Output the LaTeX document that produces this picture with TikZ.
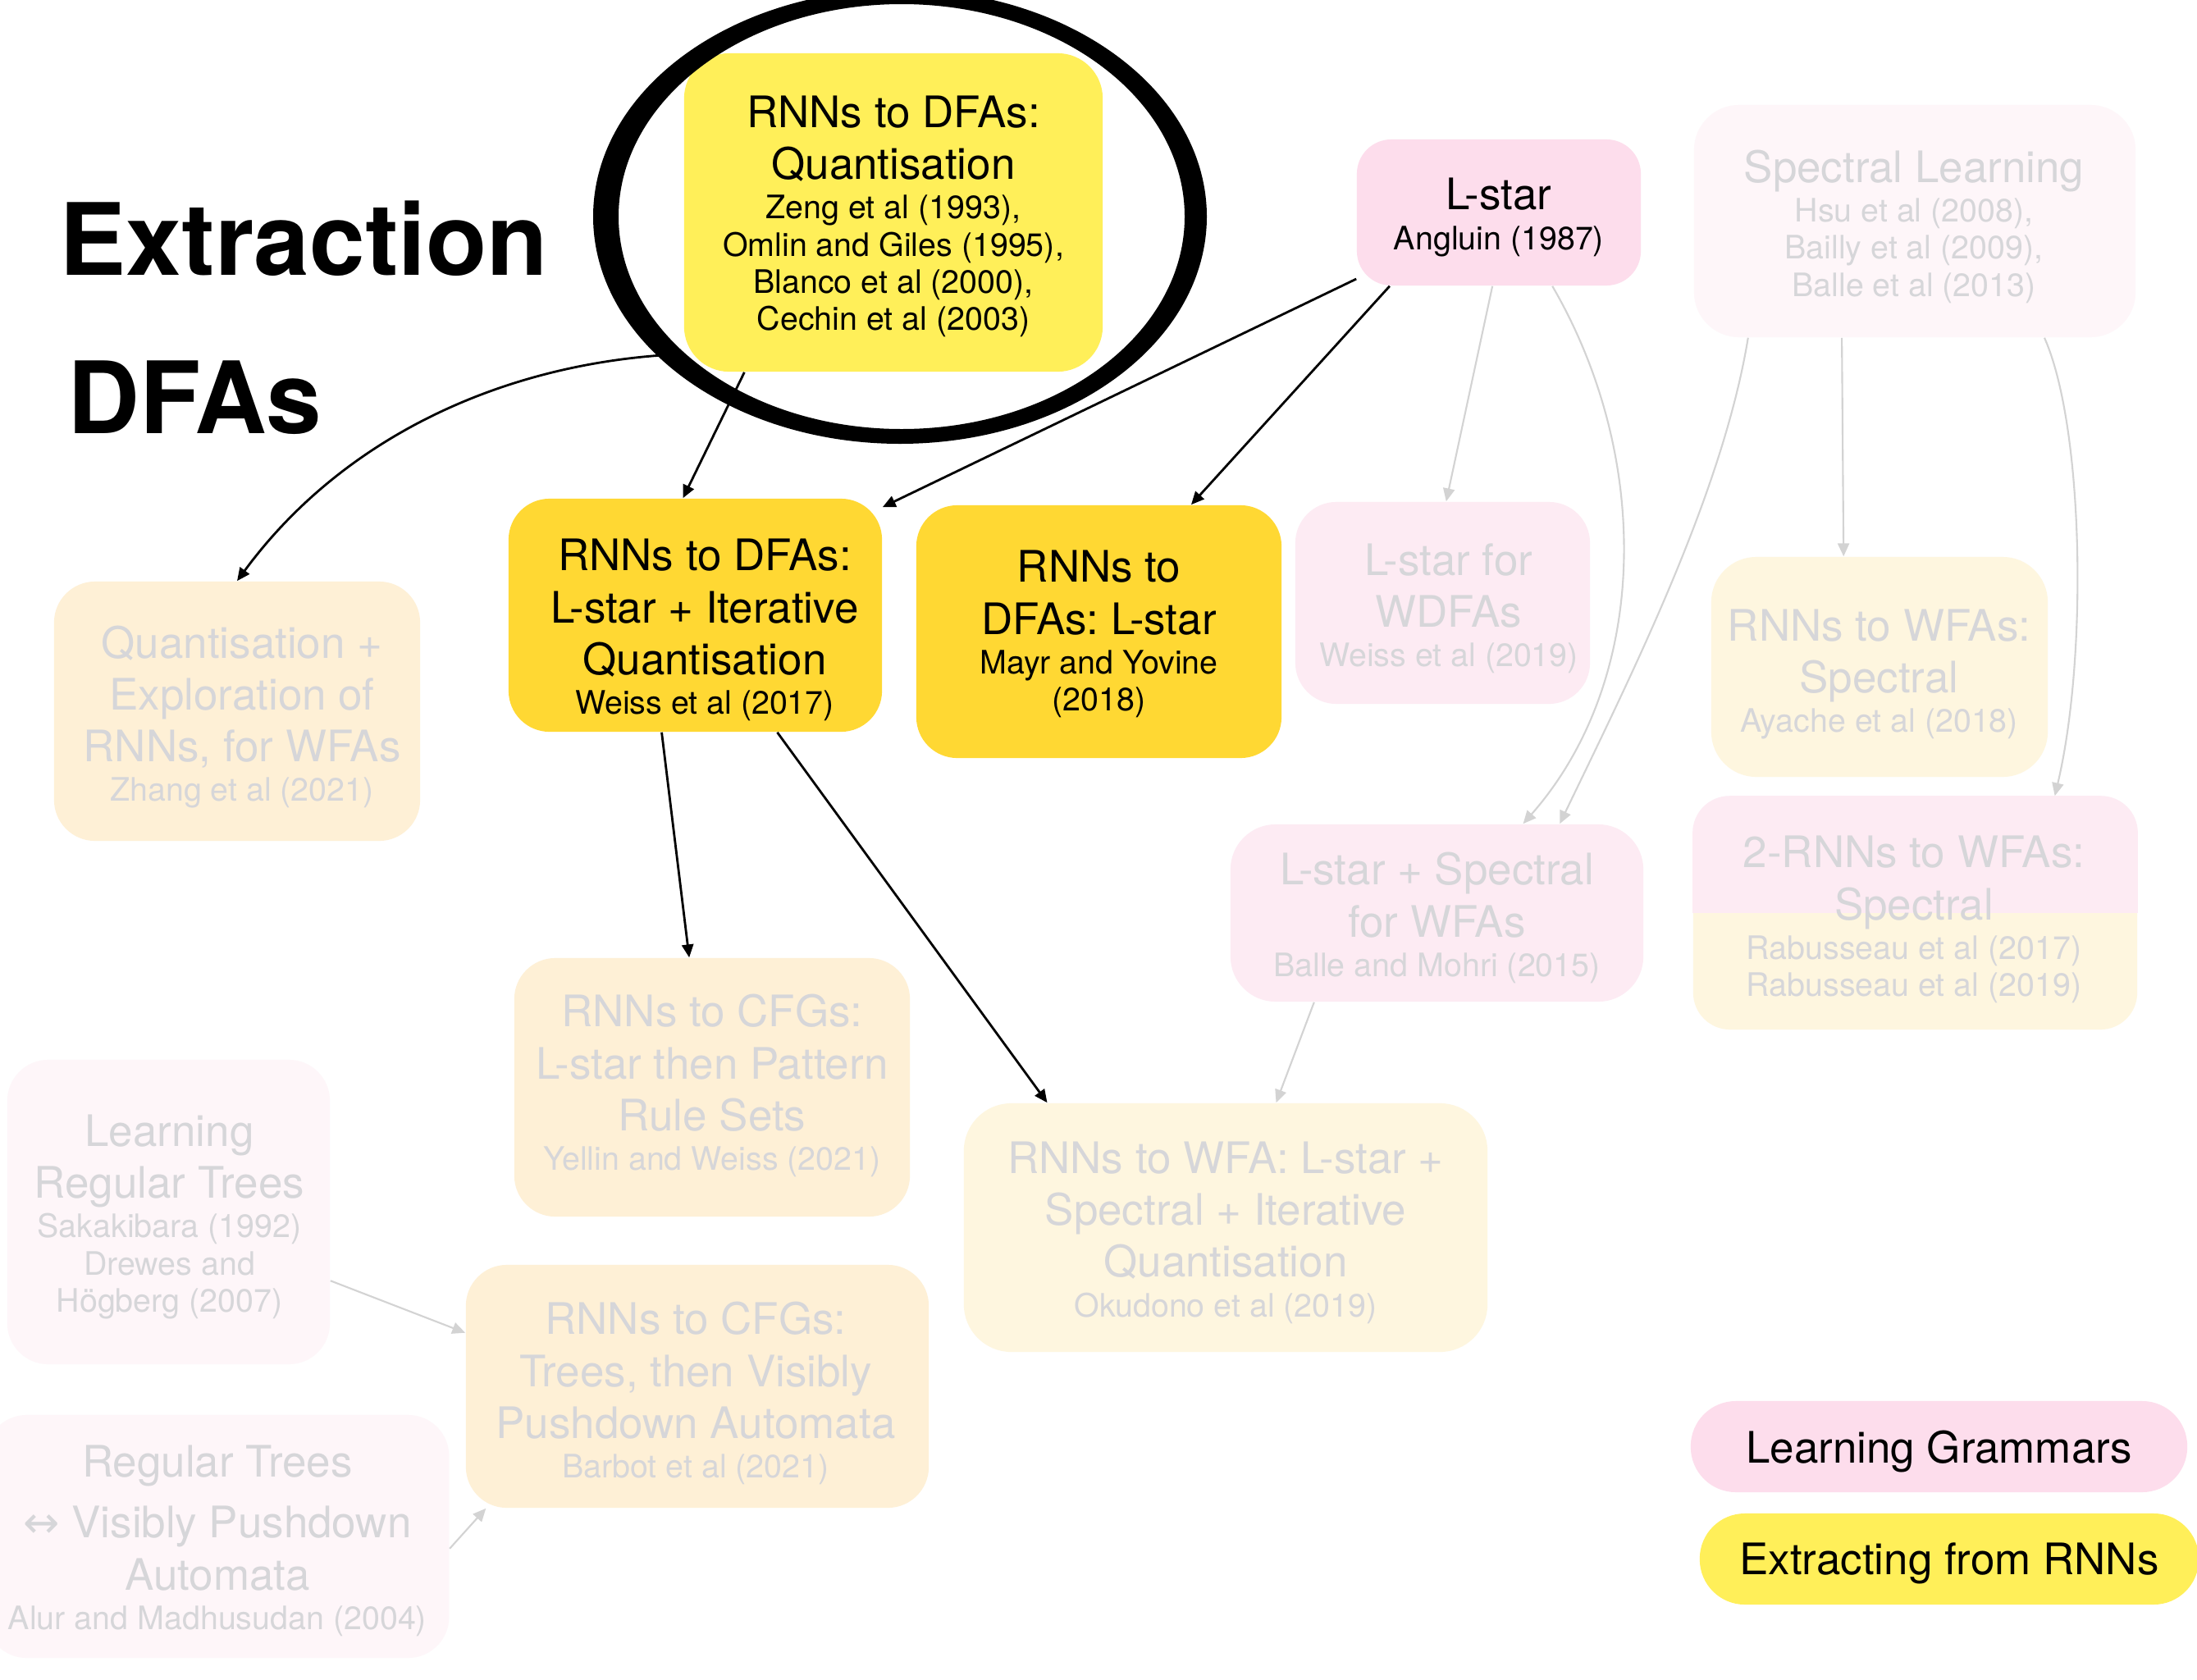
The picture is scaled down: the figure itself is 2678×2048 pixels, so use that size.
\documentclass[tikz,border=0pt]{standalone}
\usepackage{fontspec}
\setmainfont{TeX Gyre Heros}
\newfontfamily\symfont{DejaVu Sans}
\usetikzlibrary{arrows.meta}

\definecolor{yelbox}{HTML}{FFEF59}
\definecolor{goldbox}{HTML}{FFD833}
\definecolor{pinkbox}{HTML}{FDDDEC}
\definecolor{pinkfade}{HTML}{FDEBF3}
\definecolor{pinkpale}{HTML}{FEF6F9}
\definecolor{creambox}{HTML}{FEF0D6}
\definecolor{yelfade}{HTML}{FEF6DF}
\definecolor{fadetext}{HTML}{D6D6D9}
\definecolor{fadeline}{HTML}{D3D3D3}

\newcommand\mainsize{\fontsize{15.05}{18}\selectfont\frenchspacing}
\newcommand\citesize{\fontsize{11.2}{12.9}\selectfont}
\newcommand\citestart{\par\vspace{0.8pt}\citesize}
\newcommand\titlesize{\fontsize{34.6}{40}\selectfont\bfseries}

\begin{document}
\begin{tikzpicture}[x=0.01cm, y=-0.01cm,
  card/.style={rectangle, rounded corners=0.5cm, inner sep=0pt},
  words/.style={inner sep=0pt, align=flush center, font=\mainsize},
  faded/.style={text=fadetext},
  pill/.style={rectangle, rounded corners=0.55cm, inner sep=0pt,
    minimum height=1.11cm, font=\mainsize, text depth=0pt},
  link/.style={draw=black, line width=0.8pt, -{Triangle[length=4.5pt,width=4pt]}},
  glink/.style={draw=fadeline, line width=0.6pt, -{Triangle[length=4.5pt,width=4pt]}}]

\fill[white] (0,0) rectangle (2678,2048);
\useasboundingbox (0,0) rectangle (2678,2048);

% headings
\node[anchor=base west, inner sep=0pt, font=\titlesize] (head1) at (72,335) {Extraction};
\node[anchor=base west, inner sep=0pt, font=\titlesize] (head2) at (82,528) {DFAs};

% cards
\node[card, fill=yelbox, rounded corners=0.55cm, minimum width=5.10cm, minimum height=3.88cm] (q1) at (1089,259) {};
\node[card, fill=pinkbox, rounded corners=0.42cm, minimum width=3.46cm, minimum height=1.78cm] (ls) at (1827,259) {};
\node[card, fill=pinkpale, rounded corners=0.55cm, minimum width=5.38cm, minimum height=2.83cm] (sl) at (2334,269.5) {};
\node[card, fill=pinkfade, minimum width=3.59cm, minimum height=2.46cm] (lw) at (1758.5,735) {};
\node[card, fill=yelfade, rounded corners=0.55cm, minimum width=4.10cm, minimum height=2.68cm] (ws) at (2291,813) {};
\node[card, fill=yelfade, rounded corners=0.45cm, minimum width=5.41cm, minimum height=2.84cm] (r2) at (2334.5,1113) {};
\begin{scope}
  \clip[rounded corners=0.45cm] (r2.south west) rectangle (r2.north east);
  \fill[pinkfade] (r2.west) rectangle (r2.north east);
\end{scope}
\node[card, fill=goldbox, minimum width=4.55cm, minimum height=2.84cm] (wq) at (847.5,750) {};
\node[card, fill=goldbox, minimum width=4.45cm, minimum height=3.08cm] (my) at (1339.5,770) {};
\node[card, fill=creambox, minimum width=4.46cm, minimum height=3.16cm] (qe) at (289,867) {};
\node[card, fill=creambox, minimum width=4.82cm, minimum height=3.15cm] (cl) at (868,1325.5) {};
\node[card, fill=pinkpale, minimum width=3.93cm, minimum height=3.71cm] (lt) at (205.5,1477.5) {};
\node[card, fill=pinkpale, minimum width=5.645cm, minimum height=2.96cm] (vp) at (265,1873) {};
\node[card, fill=creambox, minimum width=5.64cm, minimum height=2.96cm] (bb) at (850,1690) {};
\node[card, fill=yelfade, rounded corners=0.58cm, minimum width=6.38cm, minimum height=3.03cm] (ok) at (1494,1496.5) {};
\node[card, fill=pinkfade, rounded corners=0.55cm, minimum width=5.03cm, minimum height=2.16cm] (lss) at (1751.5,1113) {};

% card texts
\node[words, text width=5.1cm] (q1-t) at (1089,264) {RNNs to DFAs:\\Quantisation\citestart Zeng et al (1993),\\Omlin and Giles (1995),\\Blanco et al (2000),\\Cechin et al (2003)\par};
\node[words, text width=3.46cm] (ls-t) at (1827,265) {L-star\citestart Angluin (1987)\par};
\node[words, faded, text width=5.38cm] (sl-t) at (2333,276) {Spectral Learning\citestart Hsu et al (2008),\\Bailly et al (2009),\\Balle et al (2013)\par};
\node[words, faded, text width=3.59cm] (lw-t) at (1766,742) {L-star for\\WDFAs\citestart Weiss et al (2019)\par};
\node[words, faded, text width=4.10cm] (ws-t) at (2290.5,822) {RNNs to WFAs:\\Spectral\citestart Ayache et al (2018)\par};
\node[words, faded, text width=5.41cm] (r2-t) at (2333,1121) {2-RNNs to WFAs:\\Spectral\citestart Rabusseau et al (2017)\\Rabusseau et al (2019)\par};
\node[words, text width=4.55cm] (wq-t) at (859,768) {RNNs to DFAs:\\L-star + Iterative\\Quantisation\citestart Weiss et al (2017)\par};
\node[words, text width=4.45cm] (my-t) at (1339.5,773) {RNNs to\\DFAs: L-star\citestart Mayr and Yovine\\(2018)\par};
\node[words, faded, text width=4.46cm] (qe-t) at (295,874) {Quantisation +\\Exploration of\\RNNs, for WFAs\citestart Zhang et al (2021)\par};
\node[words, faded, text width=4.82cm] (cl-t) at (868,1323.5) {RNNs to CFGs:\\L-star then Pattern\\Rule Sets\citestart Yellin and Weiss (2021)\par};
\node[words, faded, text width=3.93cm] (lt-t) at (206.5,1483.5) {Learning\\Regular Trees\citestart Sakakibara (1992)\\Drewes and\\Högberg (2007)\par};
\node[words, faded, text width=5.645cm] (vp-t) at (265,1878.5) {Regular Trees\\[3pt]{\symfont ↔} Visibly Pushdown\\Automata\citestart Alur and Madhusudan (2004)\par};
\node[words, faded, text width=5.64cm] (bb-t) at (848,1698.5) {RNNs to CFGs:\\Trees, then Visibly\\Pushdown Automata\citestart Barbot et al (2021)\par};
\node[words, faded, text width=6.38cm] (ok-t) at (1494,1502.5) {RNNs to WFA: L-star +\\Spectral + Iterative\\Quantisation\citestart Okudono et al (2019)\par};
\node[words, faded, text width=5.03cm] (lss-t) at (1751.5,1119) {L-star + Spectral\\for WFAs\citestart Balle and Mohri (2015)\par};

% legend
\node[pill, fill=pinkbox, minimum width=6.05cm] (key1) at (2363.5,1763.5) {Learning Grammars};
\node[pill, fill=yelbox, minimum width=6.08cm] (key2) at (2376,1900.5) {Extracting from RNNs};

% faded connectors
\draw[glink] (ls.265) -- (lw.88);
\draw[glink] (ls.306) .. controls (2015,560) and (2010,830) .. (lss.46);
\draw[glink] (sl.215) .. controls (2100,600) and (1990,820) .. (lss.36);
\draw[glink] (sl.238.4) -- (ws.108.2);
\draw[glink] (sl.318.5) .. controls (2540,520) and (2545,800) .. (r2.40.1);
\draw[glink] (lss.216.4) -- (ok.68.8);
\draw[glink] (lt.-23.9) -- (bb.167.9);
\draw[glink] (vp.-3.2) -- (bb.210.2);

% highlighted connectors
\draw[link] (q1.214) .. controls (620,440) and (420,530) .. (qe.north);
\draw[link] (q1.227) -- (wq.96.6);
\draw[link] (ls.205) -- (wq.30);
\draw[link] (ls.214.6) -- (my.54.7);
\draw[link] (wq.254.6) -- (cl.100);
\draw[link] (wq.305) -- (ok.145.6);

% hand-drawn ring around the quantisation card
\fill[black, even odd rule] (1097,264) ellipse [x radius=374, y radius=277]
  (1099,264) ellipse [x radius=345, y radius=259];

\end{tikzpicture}
\end{document}
